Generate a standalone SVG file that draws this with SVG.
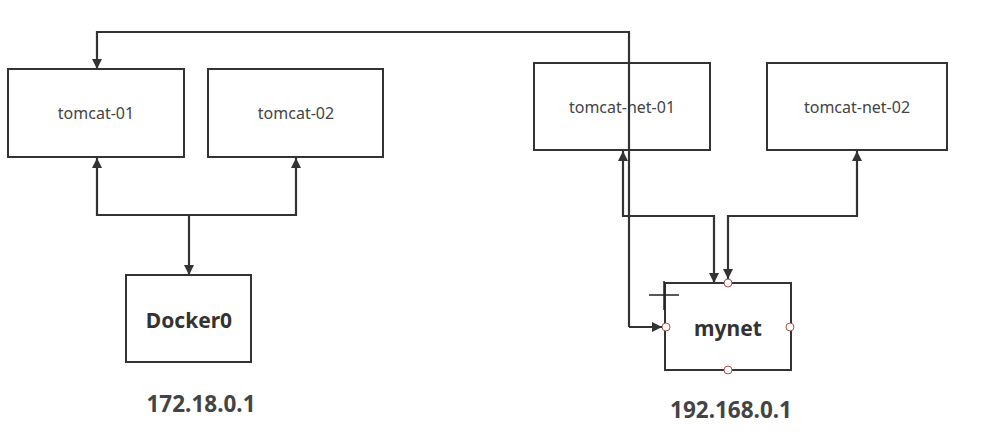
<svg xmlns="http://www.w3.org/2000/svg" width="996" height="442" viewBox="0 0 996 442">
<defs>
<marker id="arr" viewBox="0 0 10 10" refX="10" refY="5" markerWidth="11" markerHeight="10" markerUnits="userSpaceOnUse" orient="auto">
<path d="M0,0 L10,5 L0,10 z" fill="#333"/>
</marker>
<marker id="arrs" viewBox="0 0 10 10" refX="0" refY="5" markerWidth="11" markerHeight="10" markerUnits="userSpaceOnUse" orient="auto">
<path d="M10,0 L0,5 L10,10 z" fill="#333"/>
</marker>
<style>
.box{fill:#fff;stroke:#333;stroke-width:2}
.lbl{font-family:"Noto Sans","Open Sans",sans-serif;font-size:16px;fill:#444;text-anchor:middle;dominant-baseline:central}
.big{font-family:"Noto Sans","Open Sans",sans-serif;font-size:21px;font-weight:bold;fill:#333;text-anchor:middle;dominant-baseline:central}
.ip{font-family:"Noto Sans","Open Sans",sans-serif;font-size:22.5px;font-weight:bold;fill:#444;text-anchor:middle}
.edge{fill:none;stroke:#333;stroke-width:2.2;marker-end:url(#arr)}
.edge2{fill:none;stroke:#333;stroke-width:2.2;marker-start:url(#arrs);marker-end:url(#arr)}
.h{fill:#fff;stroke:#b05050;stroke-width:1}
</style>
</defs>
<rect width="996" height="442" fill="#fff"/>
<g id="tomcat-01"><rect class="box" x="8" y="69" width="176" height="88"/><text class="lbl" x="96" y="113">tomcat-01</text></g>
<g id="tomcat-02"><rect class="box" x="208" y="69" width="175" height="88"/><text class="lbl" x="296" y="113">tomcat-02</text></g>
<g id="docker0"><rect class="box" x="126" y="275" width="125" height="87"/><text class="big" x="189" y="320">Docker0</text><text class="ip" x="201" y="412">172.18.0.1</text></g>
<g id="tomcat-net-01"><rect class="box" x="534" y="63" width="176" height="87"/><text class="lbl" x="622" y="107">tomcat-net-01</text></g>
<g id="tomcat-net-02"><rect class="box" x="767" y="63" width="180" height="87"/><text class="lbl" x="857" y="107">tomcat-net-02</text></g>
<g id="mynet"><rect class="box" x="665" y="283" width="126" height="87"/><text class="big" x="728" y="328">mynet</text><text class="ip" x="731" y="418">192.168.0.1</text>
<circle class="h" cx="728" cy="283" r="4"/><circle class="h" cx="666" cy="327" r="4"/><circle class="h" cx="790" cy="327" r="4"/><circle class="h" cx="728" cy="370" r="4"/></g>
<g id="connectors">
<path class="edge2" d="M97,158 V215 H296 V158"/>
<path class="edge" d="M189,215 V275"/>
<path class="edge" d="M629,327 V32 H97 V69"/>
<path class="edge" d="M629,327 H662"/>
<path class="edge2" d="M623,151 V216 H714 V283"/>
<path class="edge2" d="M857,151 V216 H728 V279"/>
</g>
<g id="cursor" stroke="#222" stroke-width="1.5"><path d="M664,281 V310 M649,295 H679"/></g>
</svg>
